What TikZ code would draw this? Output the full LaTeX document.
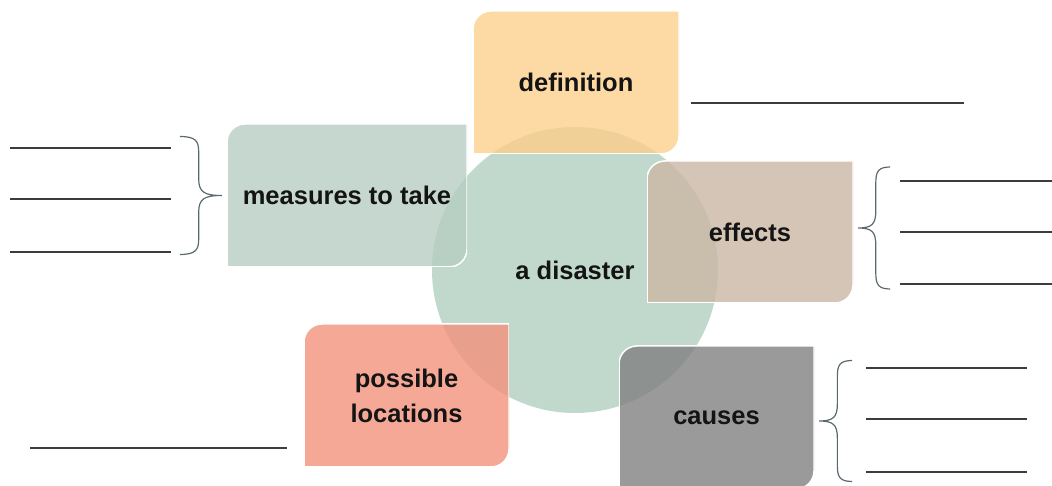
\documentclass[tikz,border=0pt]{standalone}
\usepackage{fontspec}
\setmainfont{Liberation Sans}
\usepackage{tikz}
\definecolor{defcol}{RGB}{253,207,140}
\definecolor{meascol}{RGB}{182,205,194}
\definecolor{effcol}{RGB}{203,183,165}
\definecolor{loccol}{RGB}{242,146,124}
\definecolor{causecol}{RGB}{129,129,129}
\definecolor{disastercol}{RGB}{193,216,204}
\definecolor{blankcol}{RGB}{60,60,60}
\definecolor{bracecol}{RGB}{90,105,110}
\newcommand\topicfont{\fontsize{25.5}{35}\selectfont\bfseries}
\tikzset{
  topic/.style={inner sep=0pt, align=center, font=\topicfont, text=black!92,
    path picture={\fill[#1, fill opacity=0.8, draw=white, line width=1.5pt]
      (path picture bounding box.south west)
      -- ([xshift=-\cornerrad]path picture bounding box.south east)
      arc[start angle=-90, end angle=0, radius=\cornerrad]
      -- (path picture bounding box.north east)
      -- ([xshift=\cornerrad]path picture bounding box.north west)
      arc[start angle=90, end angle=180, radius=\cornerrad] -- cycle;}},
  blankline/.style={blankcol, line width=2.5pt},
  pics/curly/.style={code={
    \draw[bracecol, line width=1.2pt] (-1,0.5) .. controls (-0.62,0.5) and (-0.55,0.46) .. (-0.55,0.37)
      -- (-0.55,0.14) .. controls (-0.55,0.03) and (-0.42,0) .. (0,0)
      .. controls (-0.42,0) and (-0.55,-0.03) .. (-0.55,-0.14)
      -- (-0.55,-0.37) .. controls (-0.55,-0.46) and (-0.62,-0.5) .. (-1,-0.5);}}
}
\begin{document}
\begin{tikzpicture}[x=1pt,y=1pt]
  % Configurable parameters
  \def\cornerrad{18pt}
  %
  % Frame
  \useasboundingbox (0,0) rectangle (1052,486);
  %
  % Centre
  \node[circle, fill=disastercol, minimum size=286pt, inner sep=0pt, font=\topicfont, text=black!92]
    (disaster) at (575,216) {a disaster};
  %
  % Topics
  \node[topic=defcol, minimum width=206pt, minimum height=143pt] (definition) at (576,403.5) {definition};
  \node[topic=meascol, minimum width=240pt, minimum height=143pt] (measures) at (347,290.5) {measures to take};
  \node[topic=effcol, minimum width=206pt, minimum height=142pt] (effects) at (750,254) {effects};
  \node[topic=loccol, minimum width=205pt, minimum height=143pt] (locations) at (406.5,90.5) {possible\\locations};
  \node[topic=causecol, minimum width=195pt, minimum height=143pt] (causes) at (716.5,68.5) {causes};
  %
  % Braces
  \pic[xscale=42, yscale=118] at ([xshift=-5pt]measures.west) {curly};
  \pic[xscale=-32, yscale=122] at ([xshift=5pt,yshift=4pt]effects.east) {curly};
  \pic[xscale=-33, yscale=121] at ([xshift=5pt,yshift=-3.5pt]causes.east) {curly};
  %
  % Blank lines
  \draw[blankline] (691,383) -- (964,383);
  \draw[blankline] (30,38) -- (287,38);
  \foreach \y in {338,287,234} \draw[blankline] (10,\y) -- (171,\y);
  \foreach \y in {305,254,202} \draw[blankline] (900,\y) -- (1052,\y);
  \foreach \y in {118,67,14} \draw[blankline] (866,\y) -- (1027,\y);
  %
\end{tikzpicture}
\end{document}
